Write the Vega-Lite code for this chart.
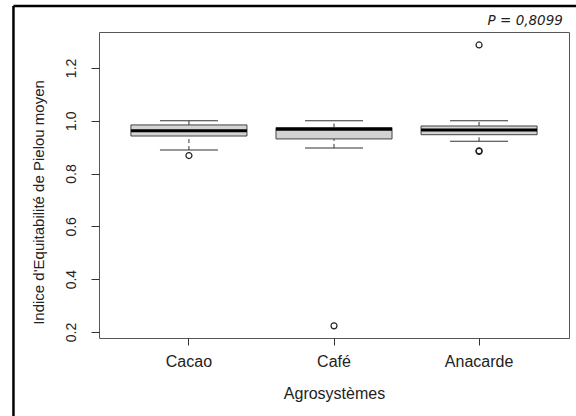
{
  "$schema": "https://vega.github.io/schema/vega-lite/v6.json",
  "width": 470,
  "height": 306,
  "autosize": "none",
  "padding": {"left": 99, "top": 32, "right": 7, "bottom": 78},
  "background": "white",
  "config": {"view": {"stroke": "#555555", "strokeWidth": 1}},
  "datasets": {
    "boites": [
      {"groupe": "Cacao", "min": 0.889, "q1": 0.942, "mediane": 0.962, "q3": 0.984, "max": 1.0},
      {"groupe": "Café", "min": 0.897, "q1": 0.931, "mediane": 0.968, "q3": 0.974, "max": 1.0},
      {"groupe": "Anacarde", "min": 0.922, "q1": 0.947, "mediane": 0.965, "q3": 0.980, "max": 1.0}
    ],
    "aberrants": [
      {"groupe": "Cacao", "valeur": 0.868},
      {"groupe": "Café", "valeur": 0.223},
      {"groupe": "Anacarde", "valeur": 0.886},
      {"groupe": "Anacarde", "valeur": 0.884},
      {"groupe": "Anacarde", "valeur": 1.287}
    ],
    "annotation": [
      {"texte": "P = 0,8099"}
    ]
  },
  "resolve": {"scale": {"x": "independent"}},
  "layer": [
    {
      "layer": [
        {
          "data": {"values": [{"cadre": "gauche"}]},
          "mark": {"type": "rule", "color": "#000000", "strokeWidth": 2.5},
          "encoding": {
            "x": {"datum": -0.182, "type": "quantitative"},
            "y": {"datum": 1.4345, "type": "quantitative"},
            "y2": {"datum": -0.3}
          }
        },
        {
          "data": {"values": [{"cadre": "haut"}]},
          "mark": {"type": "rule", "color": "#000000", "strokeWidth": 2.5},
          "encoding": {
            "x": {"datum": -0.182, "type": "quantitative"},
            "x2": {"datum": 1.1},
            "y": {"datum": 1.4345, "type": "quantitative"}
          }
        },
        {
          "data": {"name": "annotation"},
          "mark": {"type": "text", "align": "right", "baseline": "middle", "font": "DejaVu Sans", "fontStyle": "italic", "fontSize": 13.5, "color": "#222222"},
          "encoding": {
            "x": {"datum": 0.987, "type": "quantitative"},
            "y": {"datum": 1.378, "type": "quantitative"},
            "text": {"field": "texte"}
          }
        }
      ],
      "encoding": {
        "x": {"type": "quantitative", "scale": {"domain": [0, 1]}, "axis": null},
        "y": {"type": "quantitative", "scale": {"domain": [0.177, 1.336], "nice": false, "zero": false}}
      }
    },
    {
      "layer": [
        {
          "data": {"name": "boites"},
          "mark": {"type": "rule", "color": "#333333", "strokeWidth": 1, "strokeDash": [4, 3]},
          "encoding": {
            "x": {"field": "groupe", "type": "nominal"},
            "y": {"field": "q3", "type": "quantitative"},
            "y2": {"field": "max"}
          }
        },
        {
          "data": {"name": "boites"},
          "mark": {"type": "rule", "color": "#333333", "strokeWidth": 1, "strokeDash": [4, 3]},
          "encoding": {
            "x": {"field": "groupe", "type": "nominal"},
            "y": {"field": "min", "type": "quantitative"},
            "y2": {"field": "q1"}
          }
        },
        {
          "data": {"name": "boites"},
          "mark": {"type": "tick", "orient": "horizontal", "size": 58, "thickness": 1, "color": "#333333", "opacity": 1},
          "encoding": {
            "x": {"field": "groupe", "type": "nominal"},
            "y": {"field": "max", "type": "quantitative"}
          }
        },
        {
          "data": {"name": "boites"},
          "mark": {"type": "tick", "orient": "horizontal", "size": 58, "thickness": 1, "color": "#333333", "opacity": 1},
          "encoding": {
            "x": {"field": "groupe", "type": "nominal"},
            "y": {"field": "min", "type": "quantitative"}
          }
        },
        {
          "data": {"name": "boites"},
          "mark": {"type": "rect", "fill": "#d3d3d3", "stroke": "#444444", "strokeWidth": 1},
          "encoding": {
            "x": {"field": "groupe", "type": "nominal"},
            "y": {"field": "q1", "type": "quantitative"},
            "y2": {"field": "q3"}
          }
        },
        {
          "data": {"name": "boites"},
          "mark": {"type": "tick", "orient": "horizontal", "size": 116, "thickness": 3, "color": "#000000", "opacity": 1},
          "encoding": {
            "x": {"field": "groupe", "type": "nominal"},
            "y": {"field": "mediane", "type": "quantitative"}
          }
        },
        {
          "data": {"name": "aberrants"},
          "mark": {"type": "point", "shape": "circle", "filled": false, "size": 36, "stroke": "#222222", "strokeWidth": 1.2, "opacity": 1},
          "encoding": {
            "x": {"field": "groupe", "type": "nominal"},
            "y": {"field": "valeur", "type": "quantitative"}
          }
        }
      ],
      "encoding": {
        "x": {
          "field": "groupe",
          "type": "nominal",
          "sort": ["Cacao", "Café", "Anacarde"],
          "scale": {"type": "band", "paddingInner": 0.2, "paddingOuter": 0.22},
          "title": "Agrosystèmes",
          "axis": {
            "labelAngle": 0, "labelFont": "Liberation Sans", "labelFontSize": 16, "labelColor": "#222222",
            "labelPadding": 8, "tickSize": 7, "tickColor": "#333333", "domain": false, "grid": false,
            "titleFont": "Liberation Sans", "titleFontSize": 16, "titleFontWeight": "normal", "titleColor": "#222222", "titlePadding": 16
          }
        },
        "y": {
          "type": "quantitative",
          "scale": {"domain": [0.177, 1.336], "nice": false, "zero": false},
          "title": "Indice d'Equitabilité de Pielou moyen",
          "axis": {
            "values": [0.2, 0.4, 0.6, 0.8, 1.0, 1.2], "format": ".1f",
            "labelAngle": -90, "labelAlign": "center", "labelBaseline": "bottom",
            "labelFont": "Liberation Sans", "labelFontSize": 14, "labelColor": "#222222", "labelPadding": 13,
            "tickSize": 8, "tickColor": "#333333", "domain": false, "grid": false,
            "titleFont": "Liberation Sans", "titleFontSize": 15, "titleFontWeight": "normal", "titleColor": "#222222",
            "titleX": -61, "titleY": 170, "titleAngle": -90, "titleAlign": "center", "titleBaseline": "middle"
          }
        }
      }
    }
  ]
}
